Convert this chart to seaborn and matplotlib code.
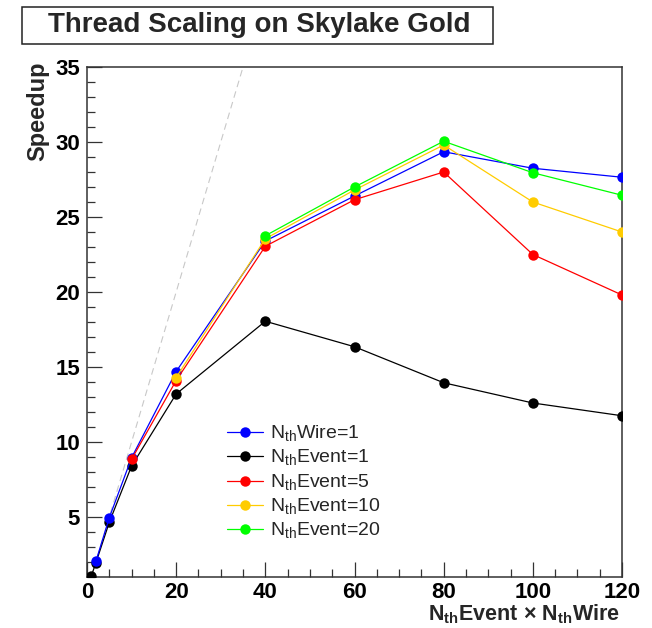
import numpy as np
import pandas as pd
import matplotlib
matplotlib.use("Agg")
import matplotlib.pyplot as plt
import seaborn as sns
from matplotlib.patches import Rectangle
from matplotlib.ticker import MultipleLocator

# ---- data ----
wire1_x = [2, 5, 10, 20, 40, 60, 80, 100, 120]
wire1_y = [2.05, 4.95, 8.95, 14.7, 23.4, 26.4, 29.35, 28.25, 27.65]

event1_x = [1, 2, 5, 10, 20, 40, 60, 80, 100, 120]
event1_y = [1.1, 1.95, 4.65, 8.4, 13.2, 18.05, 16.35, 13.95, 12.6, 11.75]

event5_x = [10, 20, 40, 60, 80, 100, 120]
event5_y = [8.85, 14.1, 23.05, 26.15, 28.0, 22.5, 19.8]

event10_x = [20, 40, 60, 80, 100, 120]
event10_y = [14.3, 23.55, 26.8, 29.8, 26.0, 24.0]

event20_x = [40, 60, 80, 100, 120]
event20_y = [23.75, 27.0, 30.05, 27.95, 26.45]

labels = [r"N$_{\rm th}$Wire=1", r"N$_{\rm th}$Event=1", r"N$_{\rm th}$Event=5",
          r"N$_{\rm th}$Event=10", r"N$_{\rm th}$Event=20"]
colors = ["#0000ff", "#000000", "#ff0000", "#ffcc00", "#00ff00"]

series = [(wire1_x, wire1_y), (event1_x, event1_y), (event5_x, event5_y),
          (event10_x, event10_y), (event20_x, event20_y)]

frames = []
for lab, (xs, ys) in zip(labels, series):
    frames.append(pd.DataFrame({"threads": xs, "speedup": ys, "config": lab}))
df = pd.concat(frames, ignore_index=True)

# ---- style ----
sns.set_theme(style="ticks")
plt.rcParams["font.family"] = ["Liberation Sans", "DejaVu Sans"]
plt.rcParams["mathtext.fontset"] = "custom"
plt.rcParams["mathtext.rm"] = "Liberation Sans"
plt.rcParams["mathtext.bf"] = "Liberation Sans:bold"

fig = plt.figure(figsize=(6.52, 6.28), dpi=100)
ax = fig.add_axes([87 / 652, 1 - 577 / 628, 535 / 652, 510 / 628])

# ideal scaling reference
ax.axline((1, 1), slope=1, color="#c8c8c8", lw=0.8, ls=(0, (6, 4)), zorder=1)

# draw black first so the blue sits on top at low thread counts
draw_order = [labels[1], labels[0], labels[2], labels[3], labels[4]]
pal = dict(zip(labels, colors))
for lab in draw_order:
    sub = df[df["config"] == lab]
    sns.lineplot(data=sub, x="threads", y="speedup", color=pal[lab], marker="o",
                 markersize=7.5, markeredgewidth=0, lw=0.9, ax=ax, label=lab,
                 zorder=3)

ax.set_xlim(0, 120)
ax.set_ylim(1, 35)
ax.xaxis.set_major_locator(MultipleLocator(20))
ax.xaxis.set_minor_locator(MultipleLocator(5))
ax.yaxis.set_major_locator(MultipleLocator(5))
ax.yaxis.set_minor_locator(MultipleLocator(1))
ax.tick_params(which="both", direction="in", colors="#333333", width=0.9,
               labelcolor="black", labelsize=16)
ax.tick_params(which="major", length=11, pad=5)
ax.tick_params(axis="x", which="major", pad=3.5)
ax.tick_params(which="minor", length=5.5)
for lbl in ax.get_xticklabels() + ax.get_yticklabels():
    lbl.set_fontweight("bold")
for sp in ax.spines.values():
    sp.set_color("#333333")
    sp.set_linewidth(1.1)

ax.set_xlabel(r"N$_{\mathbf{th}}$Event × N$_{\mathbf{th}}$Wire", fontsize=15.5,
              fontweight="bold", loc="right")
ax.xaxis.set_label_coords(0.997, -0.05)
ax.set_ylabel("Speedup", fontsize=17, fontweight="bold", loc="top")
ax.yaxis.set_label_coords(-0.07, 1.01)

# legend in the original order
handles, labs = ax.get_legend_handles_labels()
hmap = dict(zip(labs, handles))
ax.legend([hmap[l] for l in labels], labels, loc="upper left",
          bbox_to_anchor=(0.262, 0.3), frameon=False, fontsize=14,
          handlelength=1.85, handletextpad=0.35, labelspacing=0.2,
          borderpad=0, borderaxespad=0)

# title in a box
fig.patches.append(Rectangle((22 / 652, 1 - 44 / 628), 471 / 652, 37 / 628,
                             transform=fig.transFigure, fc="white",
                             ec="#222222", lw=1.1))
fig.text(259 / 652, 1 - 25 / 628, "Thread Scaling on Skylake Gold", ha="center",
         va="center", fontsize=20, fontweight="bold")

fig.savefig("out.png", dpi=100)
